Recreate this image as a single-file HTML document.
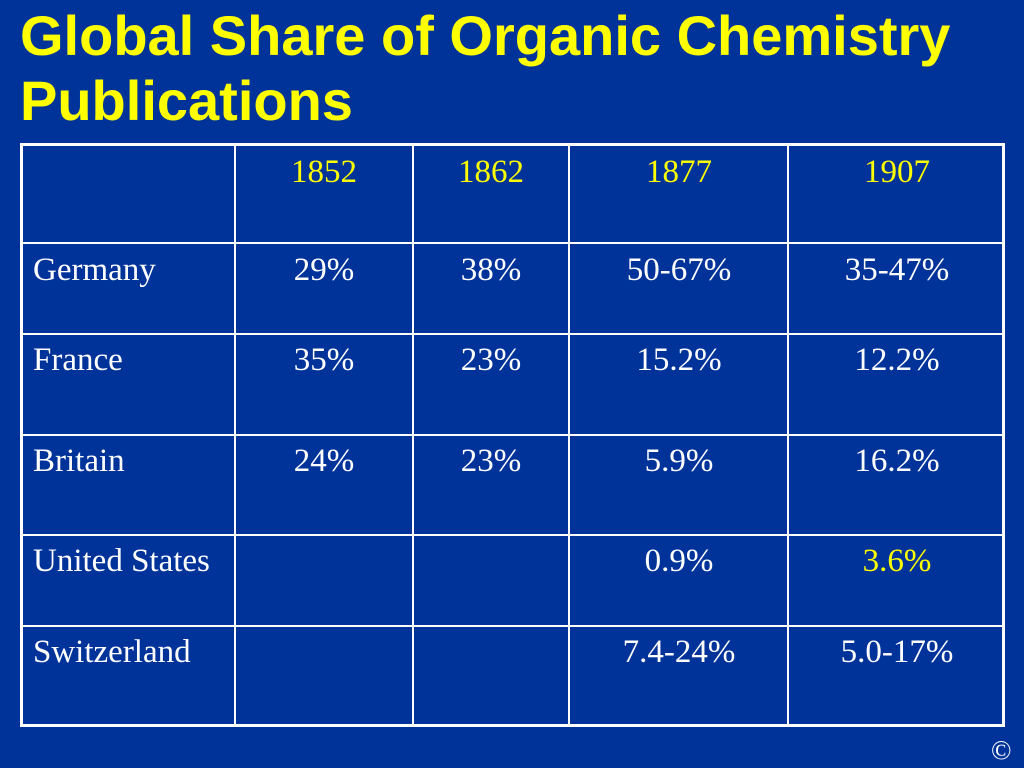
<!DOCTYPE html>
<html><head><meta charset="utf-8"><style>
body{margin:0;width:1024px;height:768px;background:#003399;overflow:hidden;position:relative;font-family:"Liberation Serif",serif;}
.t{position:absolute;left:20px;color:#ffff00;font-family:"Liberation Sans",sans-serif;font-weight:bold;font-size:56px;line-height:65px;top:3px;margin:0;white-space:nowrap;}
.box{position:absolute;left:20px;top:143px;width:979px;height:578px;border:3px solid #fff;}
.v{position:absolute;top:143px;height:584px;width:2px;background:#fff;}
.h{position:absolute;left:20px;width:985px;height:2px;background:#fff;}
.c{position:absolute;color:#fff;font-size:33px;line-height:36px;white-space:nowrap;}
.y{color:#ffff00;}
.ctr{transform:translateX(-50%);}
</style></head><body>
<h1 class="t">Global Share of Organic Chemistry<br>Publications</h1>
<div class="box"></div>
<div class="v" style="left:234px"></div>
<div class="v" style="left:412px"></div>
<div class="v" style="left:568px"></div>
<div class="v" style="left:787px"></div>
<div class="h" style="top:242px"></div>
<div class="h" style="top:333px"></div>
<div class="h" style="top:434px"></div>
<div class="h" style="top:534px"></div>
<div class="h" style="top:625px"></div>

<div class="c y ctr" style="left:324px;top:154px">1852</div>
<div class="c y ctr" style="left:491px;top:154px">1862</div>
<div class="c y ctr" style="left:679px;top:154px">1877</div>
<div class="c y ctr" style="left:897px;top:154px">1907</div>

<div class="c" style="left:33px;top:252px">Germany</div>
<div class="c ctr" style="left:324px;top:252px">29%</div>
<div class="c ctr" style="left:491px;top:252px">38%</div>
<div class="c ctr" style="left:679px;top:252px">50-67%</div>
<div class="c ctr" style="left:897px;top:252px">35-47%</div>

<div class="c" style="left:33px;top:342px">France</div>
<div class="c ctr" style="left:324px;top:342px">35%</div>
<div class="c ctr" style="left:491px;top:342px">23%</div>
<div class="c ctr" style="left:679px;top:342px">15.2%</div>
<div class="c ctr" style="left:897px;top:342px">12.2%</div>

<div class="c" style="left:33px;top:443px">Britain</div>
<div class="c ctr" style="left:324px;top:443px">24%</div>
<div class="c ctr" style="left:491px;top:443px">23%</div>
<div class="c ctr" style="left:679px;top:443px">5.9%</div>
<div class="c ctr" style="left:897px;top:443px">16.2%</div>

<div class="c" style="left:33px;top:543px">United States</div>
<div class="c ctr" style="left:679px;top:543px">0.9%</div>
<div class="c y ctr" style="left:897px;top:543px">3.6%</div>

<div class="c" style="left:33px;top:634px">Switzerland</div>
<div class="c ctr" style="left:679px;top:634px">7.4-24%</div>
<div class="c ctr" style="left:897px;top:634px">5.0-17%</div>

<div class="c" style="left:991px;top:735px;font-size:27px;line-height:30px">©</div>
</body></html>
